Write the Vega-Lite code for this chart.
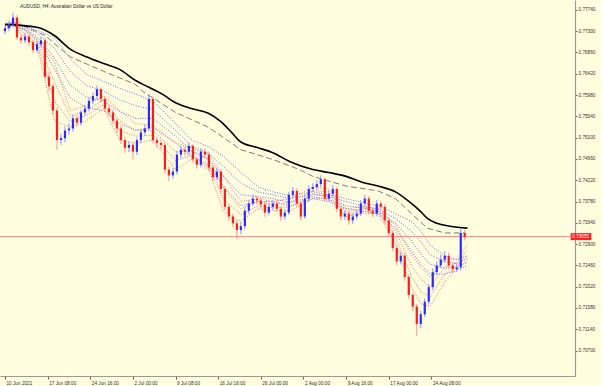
{
"$schema": "https://vega.github.io/schema/vega-lite/v6.json",
"width": 575,
"height": 376,
"autosize": "none",
"padding": {"left": 0, "top": 0, "right": 27, "bottom": 10},
"background": "#ffffe0",
"config": {"view": {"stroke": null},
"axis": {"labelOverlap": false, "labelFlush": false, "labelBound": false, "grid": false, "title": null, "labelFontSize": 4.7, "labelFont": "Liberation Sans", "labelColor": "#303030", "tickColor": "#606060", "domainColor": "#9a9a9a", "domainWidth": 1.2, "labelPadding": 1},
"axisY": {"labelOverlap": false, "labelAlign": "left", "labelBaseline": "middle", "tickSize": 2},
"axisX": {"labelOverlap": false, "labelAlign": "left", "labelBaseline": "top", "tickSize": 3, "labelOffset": 1}},
"title": {"text": "AUDUSD, H4:  Australian Dollar vs US Dollar", "anchor": "start", "frame": "group", "orient": "top", "offset": 0, "dx": 20, "dy": 12, "fontSize": 4.7, "font": "Liberation Sans", "fontWeight": "normal", "color": "#202020", "baseline": "middle"},
"datasets": {
"candles": [
{"i":0,"o":0.7730,"h":0.7742,"l":0.7724,"c":0.7736},
{"i":3,"o":0.7736,"h":0.7752,"l":0.7730,"c":0.7744},
{"i":6,"o":0.7744,"h":0.7768,"l":0.7740,"c":0.7758},
{"i":9,"o":0.7758,"h":0.7764,"l":0.7712,"c":0.7717},
{"i":12,"o":0.7717,"h":0.7724,"l":0.7704,"c":0.7711},
{"i":15,"o":0.7711,"h":0.7727,"l":0.7705,"c":0.7719},
{"i":18,"o":0.7719,"h":0.7724,"l":0.7700,"c":0.7707},
{"i":21,"o":0.7707,"h":0.7712,"l":0.7684,"c":0.7691},
{"i":24,"o":0.7691,"h":0.7709,"l":0.7686,"c":0.7703},
{"i":27,"o":0.7703,"h":0.7718,"l":0.7697,"c":0.7711},
{"i":30,"o":0.7711,"h":0.7716,"l":0.7630,"c":0.7636},
{"i":33,"o":0.7636,"h":0.7645,"l":0.7606,"c":0.7616},
{"i":36,"o":0.7616,"h":0.7622,"l":0.7558,"c":0.7566},
{"i":39,"o":0.7566,"h":0.7572,"l":0.7485,"c":0.7505},
{"i":42,"o":0.7505,"h":0.7518,"l":0.7495,"c":0.7509},
{"i":45,"o":0.7509,"h":0.7533,"l":0.7500,"c":0.7525},
{"i":48,"o":0.7525,"h":0.7540,"l":0.7515,"c":0.7529},
{"i":51,"o":0.7529,"h":0.7558,"l":0.7522,"c":0.7550},
{"i":54,"o":0.7550,"h":0.7556,"l":0.7533,"c":0.7541},
{"i":57,"o":0.7541,"h":0.7568,"l":0.7535,"c":0.7562},
{"i":60,"o":0.7562,"h":0.7578,"l":0.7555,"c":0.7570},
{"i":63,"o":0.7570,"h":0.7593,"l":0.7564,"c":0.7586},
{"i":66,"o":0.7586,"h":0.7604,"l":0.7580,"c":0.7596},
{"i":69,"o":0.7596,"h":0.7618,"l":0.7590,"c":0.7610},
{"i":72,"o":0.7610,"h":0.7614,"l":0.7582,"c":0.7590},
{"i":75,"o":0.7590,"h":0.7596,"l":0.7563,"c":0.7570},
{"i":78,"o":0.7570,"h":0.7577,"l":0.7555,"c":0.7562},
{"i":81,"o":0.7562,"h":0.7568,"l":0.7538,"c":0.7545},
{"i":84,"o":0.7545,"h":0.7550,"l":0.7520,"c":0.7529},
{"i":87,"o":0.7529,"h":0.7535,"l":0.7497,"c":0.7505},
{"i":90,"o":0.7505,"h":0.7512,"l":0.7478,"c":0.7489},
{"i":93,"o":0.7489,"h":0.7503,"l":0.7480,"c":0.7495},
{"i":96,"o":0.7495,"h":0.7500,"l":0.7466,"c":0.7481},
{"i":99,"o":0.7481,"h":0.7510,"l":0.7474,"c":0.7505},
{"i":102,"o":0.7505,"h":0.7528,"l":0.7498,"c":0.7521},
{"i":105,"o":0.7521,"h":0.7537,"l":0.7514,"c":0.7529},
{"i":108,"o":0.7529,"h":0.7600,"l":0.7524,"c":0.7590},
{"i":111,"o":0.7590,"h":0.7595,"l":0.7498,"c":0.7505},
{"i":114,"o":0.7505,"h":0.7512,"l":0.7490,"c":0.7499},
{"i":117,"o":0.7499,"h":0.7506,"l":0.7486,"c":0.7495},
{"i":120,"o":0.7495,"h":0.7500,"l":0.7436,"c":0.7444},
{"i":123,"o":0.7444,"h":0.7450,"l":0.7420,"c":0.7432},
{"i":126,"o":0.7432,"h":0.7448,"l":0.7425,"c":0.7440},
{"i":129,"o":0.7440,"h":0.7482,"l":0.7434,"c":0.7475},
{"i":132,"o":0.7475,"h":0.7493,"l":0.7468,"c":0.7485},
{"i":135,"o":0.7485,"h":0.7492,"l":0.7473,"c":0.7481},
{"i":138,"o":0.7481,"h":0.7500,"l":0.7474,"c":0.7493},
{"i":141,"o":0.7493,"h":0.7497,"l":0.7458,"c":0.7465},
{"i":144,"o":0.7465,"h":0.7470,"l":0.7446,"c":0.7454},
{"i":147,"o":0.7454,"h":0.7488,"l":0.7448,"c":0.7481},
{"i":150,"o":0.7481,"h":0.7488,"l":0.7468,"c":0.7475},
{"i":153,"o":0.7475,"h":0.7480,"l":0.7440,"c":0.7448},
{"i":156,"o":0.7448,"h":0.7453,"l":0.7420,"c":0.7428},
{"i":159,"o":0.7428,"h":0.7447,"l":0.7422,"c":0.7440},
{"i":162,"o":0.7440,"h":0.7445,"l":0.7396,"c":0.7404},
{"i":165,"o":0.7404,"h":0.7410,"l":0.7360,"c":0.7367},
{"i":168,"o":0.7367,"h":0.7372,"l":0.7338,"c":0.7347},
{"i":171,"o":0.7347,"h":0.7353,"l":0.7325,"c":0.7333},
{"i":174,"o":0.7333,"h":0.7340,"l":0.7300,"c":0.7319},
{"i":177,"o":0.7319,"h":0.7336,"l":0.7310,"c":0.7327},
{"i":180,"o":0.7327,"h":0.7366,"l":0.7320,"c":0.7359},
{"i":183,"o":0.7359,"h":0.7381,"l":0.7352,"c":0.7374},
{"i":186,"o":0.7374,"h":0.7392,"l":0.7368,"c":0.7384},
{"i":189,"o":0.7384,"h":0.7390,"l":0.7372,"c":0.7380},
{"i":192,"o":0.7380,"h":0.7386,"l":0.7365,"c":0.7372},
{"i":195,"o":0.7372,"h":0.7378,"l":0.7346,"c":0.7355},
{"i":198,"o":0.7355,"h":0.7374,"l":0.7349,"c":0.7367},
{"i":201,"o":0.7367,"h":0.7381,"l":0.7360,"c":0.7374},
{"i":204,"o":0.7374,"h":0.7380,"l":0.7356,"c":0.7363},
{"i":207,"o":0.7363,"h":0.7368,"l":0.7338,"c":0.7347},
{"i":210,"o":0.7347,"h":0.7362,"l":0.7340,"c":0.7355},
{"i":213,"o":0.7355,"h":0.7398,"l":0.7350,"c":0.7392},
{"i":216,"o":0.7392,"h":0.7408,"l":0.7386,"c":0.7400},
{"i":219,"o":0.7400,"h":0.7405,"l":0.7367,"c":0.7374},
{"i":222,"o":0.7374,"h":0.7379,"l":0.7338,"c":0.7347},
{"i":225,"o":0.7347,"h":0.7390,"l":0.7342,"c":0.7384},
{"i":228,"o":0.7384,"h":0.7411,"l":0.7378,"c":0.7404},
{"i":231,"o":0.7404,"h":0.7416,"l":0.7398,"c":0.7408},
{"i":234,"o":0.7408,"h":0.7422,"l":0.7402,"c":0.7414},
{"i":237,"o":0.7414,"h":0.7432,"l":0.7408,"c":0.7424},
{"i":240,"o":0.7424,"h":0.7428,"l":0.7377,"c":0.7384},
{"i":243,"o":0.7384,"h":0.7401,"l":0.7378,"c":0.7394},
{"i":246,"o":0.7394,"h":0.7412,"l":0.7388,"c":0.7404},
{"i":249,"o":0.7404,"h":0.7408,"l":0.7356,"c":0.7363},
{"i":252,"o":0.7363,"h":0.7368,"l":0.7338,"c":0.7347},
{"i":255,"o":0.7347,"h":0.7360,"l":0.7340,"c":0.7353},
{"i":258,"o":0.7353,"h":0.7358,"l":0.7330,"c":0.7339},
{"i":261,"o":0.7339,"h":0.7354,"l":0.7332,"c":0.7347},
{"i":264,"o":0.7347,"h":0.7360,"l":0.7341,"c":0.7353},
{"i":267,"o":0.7353,"h":0.7381,"l":0.7348,"c":0.7374},
{"i":270,"o":0.7374,"h":0.7392,"l":0.7368,"c":0.7384},
{"i":273,"o":0.7384,"h":0.7389,"l":0.7352,"c":0.7359},
{"i":276,"o":0.7359,"h":0.7365,"l":0.7346,"c":0.7353},
{"i":279,"o":0.7353,"h":0.7381,"l":0.7347,"c":0.7374},
{"i":282,"o":0.7374,"h":0.7380,"l":0.7360,"c":0.7367},
{"i":285,"o":0.7367,"h":0.7372,"l":0.7332,"c":0.7339},
{"i":288,"o":0.7339,"h":0.7344,"l":0.7305,"c":0.7313},
{"i":291,"o":0.7313,"h":0.7318,"l":0.7275,"c":0.7282},
{"i":294,"o":0.7282,"h":0.7287,"l":0.7246,"c":0.7254},
{"i":297,"o":0.7254,"h":0.7274,"l":0.7248,"c":0.7266},
{"i":300,"o":0.7266,"h":0.7271,"l":0.7214,"c":0.7222},
{"i":303,"o":0.7222,"h":0.7227,"l":0.7177,"c":0.7185},
{"i":306,"o":0.7185,"h":0.7190,"l":0.7152,"c":0.7161},
{"i":309,"o":0.7161,"h":0.7166,"l":0.7100,"c":0.7125},
{"i":312,"o":0.7125,"h":0.7152,"l":0.7116,"c":0.7145},
{"i":315,"o":0.7145,"h":0.7178,"l":0.7139,"c":0.7171},
{"i":318,"o":0.7171,"h":0.7208,"l":0.7165,"c":0.7201},
{"i":321,"o":0.7201,"h":0.7240,"l":0.7195,"c":0.7232},
{"i":324,"o":0.7232,"h":0.7254,"l":0.7226,"c":0.7246},
{"i":327,"o":0.7246,"h":0.7268,"l":0.7240,"c":0.7258},
{"i":330,"o":0.7258,"h":0.7276,"l":0.7252,"c":0.7266},
{"i":333,"o":0.7266,"h":0.7272,"l":0.7238,"c":0.7246},
{"i":336,"o":0.7246,"h":0.7252,"l":0.7230,"c":0.7238},
{"i":339,"o":0.7238,"h":0.7250,"l":0.7232,"c":0.7242},
{"i":342,"o":0.7242,"h":0.7323,"l":0.7236,"c":0.7313},
{"i":345,"o":0.7313,"h":0.7320,"l":0.7298,"c":0.7305}
],
"ribbon": [
{"i":0,"b1":0.7744,"b2":0.7744,"b3":0.7742,"b4":0.7742,"r1":0.7740,"r2":0.7738,"r3":0.7736,"r4":0.7734},
{"i":7,"b1":0.7748,"b2":0.7746,"b3":0.7742,"b4":0.7740,"r1":0.7756,"r2":0.7750,"r3":0.7746,"r4":0.7740},
{"i":15,"b1":0.7740,"b2":0.7738,"b3":0.7734,"b4":0.7732,"r1":0.7738,"r2":0.7732,"r3":0.7724,"r4":0.7717},
{"i":24,"b1":0.7732,"b2":0.7726,"b3":0.7719,"b4":0.7713,"r1":0.7713,"r2":0.7709,"r3":0.7705,"r4":0.7701},
{"i":37,"b1":0.7717,"b2":0.7695,"b3":0.7675,"b4":0.7653,"r1":0.7667,"r2":0.7626,"r3":0.7586,"r4":0.7545},
{"i":49,"b1":0.7673,"b2":0.7647,"b3":0.7618,"b4":0.7592,"r1":0.7566,"r2":0.7554,"r3":0.7543,"r4":0.7531},
{"i":61,"b1":0.7641,"b2":0.7618,"b3":0.7594,"b4":0.7572,"r1":0.7576,"r2":0.7566,"r3":0.7556,"r4":0.7545},
{"i":74,"b1":0.7626,"b2":0.7606,"b3":0.7586,"b4":0.7566,"r1":0.7596,"r2":0.7588,"r3":0.7578,"r4":0.7570},
{"i":86,"b1":0.7612,"b2":0.7588,"b3":0.7564,"b4":0.7539,"r1":0.7566,"r2":0.7545,"r3":0.7525,"r4":0.7505},
{"i":98,"b1":0.7600,"b2":0.7576,"b3":0.7550,"b4":0.7525,"r1":0.7539,"r2":0.7525,"r3":0.7513,"r4":0.7499},
{"i":111,"b1":0.7586,"b2":0.7568,"b3":0.7550,"b4":0.7531,"r1":0.7535,"r2":0.7525,"r3":0.7515,"r4":0.7505},
{"i":128,"b1":0.7539,"b2":0.7525,"b3":0.7513,"b4":0.7499,"r1":0.7499,"r2":0.7481,"r3":0.7463,"r4":0.7444},
{"i":140,"b1":0.7505,"b2":0.7493,"b3":0.7483,"b4":0.7471,"r1":0.7489,"r2":0.7481,"r3":0.7473,"r4":0.7465},
{"i":153,"b1":0.7491,"b2":0.7477,"b3":0.7465,"b4":0.7450,"r1":0.7475,"r2":0.7465,"r3":0.7454,"r4":0.7444},
{"i":164,"b1":0.7471,"b2":0.7450,"b3":0.7430,"b4":0.7410,"r1":0.7430,"r2":0.7406,"r3":0.7382,"r4":0.7357},
{"i":177,"b1":0.7438,"b2":0.7416,"b3":0.7392,"b4":0.7369,"r1":0.7378,"r2":0.7363,"r3":0.7351,"r4":0.7337},
{"i":190,"b1":0.7408,"b2":0.7398,"b3":0.7388,"b4":0.7378,"r1":0.7384,"r2":0.7378,"r3":0.7369,"r4":0.7363},
{"i":201,"b1":0.7398,"b2":0.7392,"b3":0.7384,"b4":0.7378,"r1":0.7378,"r2":0.7372,"r3":0.7365,"r4":0.7359},
{"i":214,"b1":0.7390,"b2":0.7384,"b3":0.7376,"b4":0.7369,"r1":0.7384,"r2":0.7376,"r3":0.7367,"r4":0.7359},
{"i":231,"b1":0.7398,"b2":0.7394,"b3":0.7388,"b4":0.7384,"r1":0.7408,"r2":0.7400,"r3":0.7392,"r4":0.7384},
{"i":243,"b1":0.7392,"b2":0.7388,"b3":0.7382,"b4":0.7378,"r1":0.7404,"r2":0.7398,"r3":0.7390,"r4":0.7384},
{"i":256,"b1":0.7384,"b2":0.7378,"b3":0.7369,"b4":0.7363,"r1":0.7363,"r2":0.7357,"r3":0.7353,"r4":0.7347},
{"i":268,"b1":0.7376,"b2":0.7369,"b3":0.7365,"b4":0.7359,"r1":0.7367,"r2":0.7363,"r3":0.7357,"r4":0.7353},
{"i":280,"b1":0.7369,"b2":0.7363,"b3":0.7359,"b4":0.7353,"r1":0.7363,"r2":0.7359,"r3":0.7357,"r4":0.7353},
{"i":293,"b1":0.7353,"b2":0.7343,"b3":0.7333,"b4":0.7323,"r1":0.7329,"r2":0.7317,"r3":0.7305,"r4":0.7293},
{"i":305,"b1":0.7337,"b2":0.7317,"b3":0.7297,"b4":0.7276,"r1":0.7268,"r2":0.7246,"r3":0.7224,"r4":0.7201},
{"i":312,"b1":0.7317,"b2":0.7295,"b3":0.7270,"b4":0.7248,"r1":0.7242,"r2":0.7218,"r3":0.7191,"r4":0.7167},
{"i":319,"b1":0.7288,"b2":0.7268,"b3":0.7248,"b4":0.7228,"r1":0.7222,"r2":0.7201,"r3":0.7181,"r4":0.7161},
{"i":330,"b1":0.7266,"b2":0.7254,"b3":0.7240,"b4":0.7228,"r1":0.7258,"r2":0.7242,"r3":0.7228,"r4":0.7212},
{"i":339,"b1":0.7258,"b2":0.7250,"b3":0.7244,"b4":0.7236,"r1":0.7258,"r2":0.7252,"r3":0.7244,"r4":0.7238},
{"i":347,"b1":0.7266,"b2":0.7260,"b3":0.7252,"b4":0.7246,"r1":0.7288,"r2":0.7278,"r3":0.7266,"r4":0.7256}
],
"slow": [
{"i":0,"v":0.7744},{"i":24,"v":0.7738},{"i":37,"v":0.7721},{"i":49,"v":0.7693},{"i":61,"v":0.7677},{"i":74,"v":0.7663},{"i":86,"v":0.7651},{"i":98,"v":0.7628},{"i":108,"v":0.7614},{"i":118,"v":0.7600},{"i":128,"v":0.7582},{"i":140,"v":0.7570},{"i":153,"v":0.7560},{"i":162,"v":0.7543},{"i":170,"v":0.7521},{"i":177,"v":0.7501},{"i":190,"v":0.7489},{"i":201,"v":0.7479},{"i":214,"v":0.7460},{"i":231,"v":0.7444},{"i":243,"v":0.7438},{"i":256,"v":0.7430},{"i":268,"v":0.7418},{"i":280,"v":0.7410},{"i":293,"v":0.7398},{"i":305,"v":0.7374},{"i":312,"v":0.7357},{"i":317,"v":0.7343},{"i":324,"v":0.7333},{"i":334,"v":0.7327},{"i":347,"v":0.7323}
],
"slow2": [
{"i":0,"v":0.7744},{"i":15,"v":0.7740},{"i":30,"v":0.7721},{"i":49,"v":0.7677},{"i":74,"v":0.7647},{"i":98,"v":0.7620},{"i":103,"v":0.7606},{"i":128,"v":0.7562},{"i":153,"v":0.7531},{"i":177,"v":0.7485},{"i":201,"v":0.7465},{"i":221,"v":0.7444},{"i":231,"v":0.7430},{"i":256,"v":0.7410},{"i":280,"v":0.7400},{"i":293,"v":0.7384},{"i":305,"v":0.7353},{"i":317,"v":0.7323},{"i":330,"v":0.7313},{"i":345,"v":0.7313}
],
"last": [{"last": 0.73055}]
},
"layer": [
{
"data": {"name": "ribbon"},
"transform": [{"fold": ["b1","b2","b3","b4","r1","r2","r3","r4"], "as": ["ma","v"]}],
"mark": {"type": "line", "strokeWidth": 1, "strokeDash": [1, 1.5], "clip": true},
"encoding": {
"x": {"field": "i", "type": "quantitative", "title": null, "scale": {"domain": [0, 424], "nice": false, "zero": false},
"axis": {"orient": "bottom", "values": [0,32,64,96,128,160,192,224,256,288,320], "labelExpr": "['10 Jun 2021','17 Jun 08:00','24 Jun 16:00','2 Jul 00:00','9 Jul 08:00','16 Jul 16:00','26 Jul 00:00','2 Aug 00:00','9 Aug 16:00','17 Aug 00:00','24 Aug 08:00'][round(datum.value/32)]", "labelOverlap": false}},
"y": {"field": "v", "type": "quantitative", "title": null, "scale": {"domain": [0.70278, 0.77841], "nice": false, "zero": false},
"axis": {"orient": "right", "values": [0.707,0.7114,0.7158,0.7202,0.7246,0.729,0.7334,0.7378,0.7422,0.7466,0.751,0.7554,0.7598,0.7642,0.7686,0.773,0.7774], "format": ".5f", "labelOverlap": false}},
"detail": {"field": "ma"},
"color": {"field": "ma", "type": "nominal", "legend": null, "scale": {"domain": ["b1","b2","b3","b4","r1","r2","r3","r4"], "range": ["#6a6aff","#6a6aff","#6a6aff","#6a6aff","#ff6a6a","#ff6a6a","#ff6a6a","#ff6a6a"]}}
}
},
{
"data": {"name": "slow2"},
"mark": {"type": "line", "strokeWidth": 1, "strokeDash": [6, 3], "color": "#7a7a7a", "clip": true},
"encoding": {
"x": {"field": "i", "type": "quantitative", "title": null},
"y": {"field": "v", "type": "quantitative", "title": null, "axis": {"orient": "right", "values": [0.707,0.7114,0.7158,0.7202,0.7246,0.729,0.7334,0.7378,0.7422,0.7466,0.751,0.7554,0.7598,0.7642,0.7686,0.773,0.7774], "format": ".5f", "labelOverlap": false}}
}
},
{
"data": {"name": "slow"},
"mark": {"type": "line", "strokeWidth": 1.6, "color": "#000000", "interpolate": "monotone", "clip": true},
"encoding": {
"x": {"field": "i", "type": "quantitative", "title": null},
"y": {"field": "v", "type": "quantitative", "title": null, "axis": {"orient": "right", "values": [0.707,0.7114,0.7158,0.7202,0.7246,0.729,0.7334,0.7378,0.7422,0.7466,0.751,0.7554,0.7598,0.7642,0.7686,0.773,0.7774], "format": ".5f", "labelOverlap": false}}
}
},
{
"data": {"name": "last"},
"mark": {"type": "rule", "color": "#ff8080", "strokeWidth": 1},
"encoding": {
"y": {"field": "last", "type": "quantitative", "title": null, "axis": {"orient": "right", "values": [0.707,0.7114,0.7158,0.7202,0.7246,0.729,0.7334,0.7378,0.7422,0.7466,0.751,0.7554,0.7598,0.7642,0.7686,0.773,0.7774], "format": ".5f", "labelOverlap": false}}
}
},
{
"data": {"name": "candles"},
"mark": {"type": "rule", "strokeWidth": 1, "clip": true},
"encoding": {
"x": {"field": "i", "type": "quantitative", "title": null},
"y": {"field": "l", "type": "quantitative", "title": null, "axis": {"orient": "right", "values": [0.707,0.7114,0.7158,0.7202,0.7246,0.729,0.7334,0.7378,0.7422,0.7466,0.751,0.7554,0.7598,0.7642,0.7686,0.773,0.7774], "format": ".5f", "labelOverlap": false}},
"y2": {"field": "h"},
"color": {"condition": {"test": "datum.c >= datum.o", "value": "#8f8fff"}, "value": "#ff8f8f"}
}
},
{
"data": {"name": "candles"},
"mark": {"type": "bar", "width": 2.2, "clip": true},
"encoding": {
"x": {"field": "i", "type": "quantitative", "title": null},
"y": {"field": "o", "type": "quantitative", "title": null, "axis": {"orient": "right", "values": [0.707,0.7114,0.7158,0.7202,0.7246,0.729,0.7334,0.7378,0.7422,0.7466,0.751,0.7554,0.7598,0.7642,0.7686,0.773,0.7774], "format": ".5f", "labelOverlap": false}},
"y2": {"field": "c"},
"color": {"condition": {"test": "datum.c >= datum.o", "value": "#2a2aff"}, "value": "#ff1a1a"}
}
},
{
"data": {"name": "last"},
"mark": {"type": "bar", "height": 7, "color": "#ff2020", "clip": false},
"encoding": {
"x": {"datum": 424.5, "type": "quantitative"},
"x2": {"datum": 440},
"y": {"field": "last", "type": "quantitative", "title": null, "axis": {"orient": "right", "values": [0.707,0.7114,0.7158,0.7202,0.7246,0.729,0.7334,0.7378,0.7422,0.7466,0.751,0.7554,0.7598,0.7642,0.7686,0.773,0.7774], "format": ".5f", "labelOverlap": false}}
}
},
{
"data": {"name": "last"},
"mark": {"type": "text", "align": "left", "baseline": "middle", "fontSize": 4.7, "font": "Liberation Sans", "color": "#ffffff", "clip": false},
"encoding": {
"x": {"datum": 425.5, "type": "quantitative"},
"y": {"field": "last", "type": "quantitative", "title": null, "axis": {"orient": "right", "values": [0.707,0.7114,0.7158,0.7202,0.7246,0.729,0.7334,0.7378,0.7422,0.7466,0.751,0.7554,0.7598,0.7642,0.7686,0.773,0.7774], "format": ".5f", "labelOverlap": false}},
"text": {"field": "last", "type": "quantitative", "format": ".5f"}
}
}
]
}
